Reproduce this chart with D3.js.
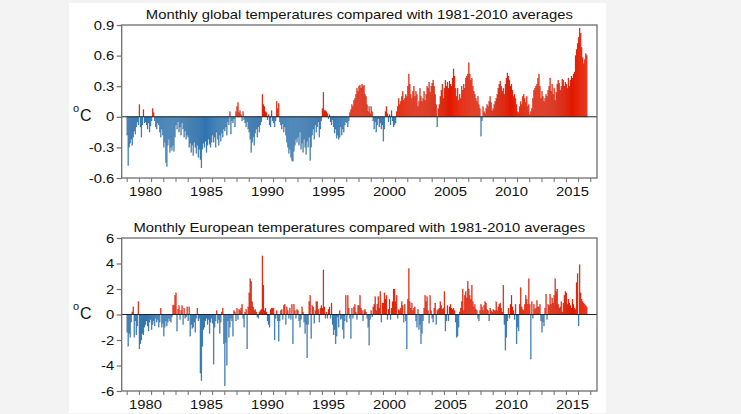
<!DOCTYPE html>
<html>
<head>
<meta charset="utf-8">
<script src="https://cdn.jsdelivr.net/npm/d3@7"></script>
<style>
  body { margin: 0; background: #f3f3f3; }
  text { font-family: "Liberation Sans", Arial, Helvetica, sans-serif; fill: #111; }
</style>
</head>
<body>
<div id="chart"></div>
<script>
// first month of both series (January 1979), one value per month
const startYear = 1979;

// Monthly global temperature anomalies (degC vs 1981-2010)
const globalAnom = [
  -0.18,-0.48,-0.30,-0.26,-0.22,-0.28,-0.20,-0.14,-0.17,-0.10,-0.05,-0.08,  // 1979
  0.12,-0.10,-0.20,-0.08,0.07,-0.06,-0.05,-0.08,-0.12,-0.06,-0.15,-0.09,   // 1980
  -0.04,0.08,0.04,-0.04,-0.10,-0.12,-0.06,-0.08,-0.15,-0.20,-0.12,-0.18,   // 1981
  -0.30,-0.25,-0.45,-0.49,-0.28,-0.22,-0.35,-0.30,-0.33,-0.28,-0.34,-0.20, // 1982
  -0.08,-0.12,-0.05,-0.15,-0.10,-0.18,-0.06,-0.12,-0.20,-0.14,-0.22,-0.18, // 1983
  -0.20,-0.30,-0.26,-0.35,-0.28,-0.38,-0.25,-0.30,-0.36,-0.28,-0.40,-0.32, // 1984
  -0.42,-0.50,-0.32,-0.26,-0.30,-0.24,-0.35,-0.28,-0.22,-0.27,-0.30,-0.25, // 1985
  -0.18,-0.25,-0.20,-0.30,-0.15,-0.22,-0.28,-0.18,-0.24,-0.16,-0.20,-0.12, // 1986
  -0.14,-0.10,-0.18,-0.05,-0.08,0.05,-0.17,-0.04,-0.06,-0.02,-0.10,0.05,   // 1987
  0.10,0.14,0.04,0.06,0.02,-0.04,0.05,-0.03,-0.06,-0.10,-0.05,-0.12,       // 1988
  -0.15,-0.22,-0.35,-0.25,-0.20,-0.28,-0.16,-0.12,-0.20,-0.10,-0.15,-0.08, // 1989
  -0.05,0.22,0.12,0.10,0.05,0.04,-0.03,0.02,-0.08,-0.10,0.06,-0.04,        // 1990
  -0.06,-0.10,-0.04,0.15,0.08,0.13,-0.05,-0.08,-0.12,-0.07,-0.15,-0.10,    // 1991
  -0.18,-0.25,-0.30,-0.36,-0.32,-0.40,-0.43,-0.44,-0.34,-0.28,-0.22,-0.25, // 1992
  -0.20,-0.28,-0.15,-0.32,-0.26,-0.35,-0.22,-0.30,-0.37,-0.24,-0.30,-0.20, // 1993
  -0.43,-0.30,-0.18,-0.12,-0.22,-0.08,-0.15,-0.10,-0.05,-0.20,-0.12,-0.04, // 1994
  0.08,0.24,0.06,0.06,0.05,0.03,-0.02,0.02,-0.05,-0.08,-0.03,-0.10,        // 1995
  -0.16,-0.12,-0.21,-0.18,-0.22,-0.20,-0.10,-0.18,-0.12,-0.15,-0.08,-0.05, // 1996
  -0.06,-0.10,-0.04,0.04,0.07,0.12,0.10,0.16,0.18,0.22,0.28,0.25,          // 1997
  0.30,0.31,0.28,0.32,0.30,0.31,0.22,0.20,0.12,0.05,0.10,0.03,             // 1998
  0.10,0.05,-0.04,-0.12,-0.05,-0.15,-0.08,-0.02,-0.10,-0.06,-0.12,-0.08,   // 1999
  -0.24,-0.12,0.05,0.10,0.03,-0.05,0.02,-0.08,0.06,-0.04,-0.10,-0.08,      // 2000
  -0.06,0.05,0.10,0.18,0.12,0.15,0.20,0.25,0.16,0.18,0.22,0.20,            // 2001
  0.30,0.42,0.32,0.22,0.18,0.25,0.30,0.20,0.25,0.22,0.10,0.15,             // 2002
  0.28,0.20,0.15,0.18,0.25,0.16,0.22,0.30,0.28,0.34,0.24,0.30,             // 2003
  0.33,0.36,0.30,0.22,0.12,-0.10,0.08,0.12,0.20,0.26,0.32,0.18,            // 2004
  0.28,0.36,0.30,0.34,0.28,0.35,0.32,0.30,0.38,0.47,0.40,0.28,             // 2005
  0.20,0.28,0.16,0.22,0.18,0.30,0.26,0.32,0.28,0.38,0.40,0.42,             // 2006
  0.53,0.42,0.36,0.38,0.30,0.25,0.22,0.18,0.15,0.20,0.12,0.08,             // 2007
  -0.19,-0.04,0.10,0.05,0.03,0.08,0.12,0.10,0.15,0.20,0.14,0.06,           // 2008
  0.08,0.12,0.15,0.18,0.22,0.28,0.32,0.35,0.30,0.25,0.28,0.22,             // 2009
  0.32,0.38,0.43,0.40,0.36,0.30,0.32,0.26,0.20,0.22,0.18,0.12,             // 2010
  0.05,0.04,0.10,0.15,0.12,0.20,0.22,0.18,0.14,0.20,0.10,0.12,             // 2011
  0.02,0.05,0.08,0.18,0.26,0.28,0.30,0.32,0.38,0.42,0.30,0.18,             // 2012
  0.25,0.20,0.15,0.18,0.22,0.20,0.26,0.30,0.38,0.25,0.32,0.22,             // 2013
  0.28,0.16,0.24,0.32,0.36,0.33,0.26,0.30,0.37,0.36,0.30,0.34,             // 2014
  0.32,0.28,0.38,0.30,0.36,0.40,0.38,0.42,0.44,0.60,0.66,0.72,             // 2015
  0.78,0.87,0.82,0.68,0.58,0.52,0.56,0.62,0.60                             // 2016 (Jan-Sep)
];

// Monthly European temperature anomalies (degC vs 1981-2010)
const europeAnom = [
  -1.4,-2.5,-1.5,-1.8,-0.6,0.2,0.6,-1.8,-0.5,-1.6,-0.9,1.0,    // 1979
  -2.7,-2.3,-2.0,-1.5,-1.6,-1.0,-0.8,-0.5,-0.9,-1.3,-0.6,-0.4, // 1980
  -1.2,-0.8,-0.5,-0.9,-0.3,-0.6,-0.4,-1.0,-0.6,0.5,-1.0,-0.7,  // 1981
  -1.7,-1.0,-0.5,-0.9,-0.6,-0.3,-0.5,-0.6,-0.2,0.7,0.75,1.5,   // 1982
  1.7,-1.3,0.4,0.7,-0.4,0.3,0.7,-0.8,0.5,-0.3,-0.2,0.6,        // 1983
  -0.5,0.6,-1.7,-0.8,-1.1,-1.0,-0.6,-1.4,-0.3,0.5,-0.5,-0.3,   // 1984
  -4.6,-5.2,-2.5,-1.2,-1.0,-0.5,-0.3,-0.8,-0.4,-1.5,-0.6,-0.3, // 1985
  -0.7,-3.9,-1.0,-0.5,0.3,-0.7,-0.4,-1.5,-0.6,0.2,0.5,-2.3,    // 1986
  -5.6,-2.2,-4.0,-0.5,-1.8,-1.0,-0.3,-0.5,-1.7,0.3,0.2,-0.5,   // 1987
  0.5,-0.4,0.4,0.3,0.5,0.8,-0.3,-1.0,0.2,0.4,-2.7,0.6,         // 1988
  1.7,2.8,2.6,1.0,0.6,0.3,0.4,0.2,-0.2,-0.3,0.2,0.3,           // 1989
  0.4,4.6,2.3,0.3,0.5,0.2,-0.5,-0.8,-1.0,0.4,0.5,0.5,          // 1990
  0.5,-2.0,-0.3,0.3,-0.5,-2.1,-0.5,0.3,0.4,-0.4,0.7,0.8,       // 1991
  -0.8,0.6,0.3,-0.3,0.5,-0.4,0.8,-2.3,0.8,0.3,-0.3,0.4,        // 1992
  0.3,-0.5,-1.0,-0.4,0.6,0.2,-0.6,-1.5,-0.8,-3.4,-0.8,1.0,     // 1993
  1.5,-1.9,0.7,0.6,-0.7,0.3,1.0,1.0,0.4,-0.6,0.5,0.7,          // 1994
  0.5,3.5,0.6,-0.3,0.2,-0.3,0.4,0.6,-0.3,0.9,-0.8,-1.6,        // 1995
  -1.2,-2.3,-1.7,-0.2,-1.0,0.3,-0.4,-0.3,-1.2,-1.9,-0.5,1.5,   // 1996
  -0.6,1.5,0.5,-0.3,-1.9,0.5,-0.3,0.6,0.8,0.2,-0.4,0.7,        // 1997
  0.7,1.5,0.5,0.3,-0.5,0.3,0.4,0.2,-0.3,-1.0,-2.4,-0.4,        // 1998
  0.3,-0.2,0.6,0.8,1.4,0.3,0.8,1.4,0.5,1.8,-0.6,0.9,           // 1999
  0.9,1.7,1.2,1.5,-0.4,0.4,1.2,-0.4,0.5,1.0,2.0,2.0,           // 2000
  1.0,1.5,-0.3,0.4,0.3,0.5,1.0,0.7,-0.6,0.8,-0.5,-2.7,         // 2001
  1.2,3.6,1.0,0.5,0.9,0.3,0.5,0.6,-0.5,-1.0,0.4,-1.2,          // 2002
  -0.8,-2.3,-1.5,-0.5,0.5,1.5,1.0,1.4,0.3,-0.7,1.5,0.3,        // 2003
  -0.3,-0.6,0.5,0.9,-0.8,0.3,0.4,0.5,1.0,0.7,0.4,0.5,          // 2004
  1.8,-1.3,-0.5,0.7,-0.5,0.6,0.8,0.5,0.4,0.5,0.3,-0.6,         // 2005
  -1.8,-1.7,-1.0,0.2,0.5,1.0,2.0,0.3,1.5,1.8,1.3,2.6,          // 2006
  2.0,1.5,1.2,2.3,1.0,0.6,0.8,0.4,0.3,-0.3,-0.5,0.3,           // 2007
  0.8,0.6,0.3,0.7,1.0,0.9,0.4,0.3,-0.5,0.5,0.3,0.2,            // 2008
  0.4,0.3,0.3,1.0,0.3,0.6,0.8,0.9,0.5,0.2,2.3,-0.8,            // 2009
  -2.8,-1.8,-0.5,0.5,-0.3,0.8,1.5,0.6,0.3,-0.4,0.8,-2.3,       // 2010
  -1.0,-1.3,0.8,2.1,0.6,0.4,0.3,0.8,1.5,1.2,0.8,2.8,           // 2011
  0.8,-3.5,1.0,-0.3,0.8,0.4,0.5,1.1,0.6,0.6,0.8,-0.5,          // 2012
  -1.4,-0.6,-0.9,0.5,1.6,-0.4,0.8,0.7,1.6,0.8,1.3,0.9,         // 2013
  1.5,2.8,1.8,2.0,0.8,0.5,0.6,1.0,0.2,0.9,1.5,1.8,             // 2014
  1.7,0.8,1.2,0.9,0.7,0.5,1.2,0.8,0.5,0.4,2.5,3.2,             // 2015
  -0.9,3.9,1.7,1.2,1.0,0.9,0.8,0.7,0.6                         // 2016 (Jan-Sep)
];

const yearLabels = [1980, 1985, 1990, 1995, 2000, 2005, 2010, 2015];
const globalTicks = [-0.6, -0.3, 0, 0.3, 0.6, 0.9];
const europeTicks = [-6, -4, -2, 0, 2, 4, 6];
const globalTitle = 'Monthly global temperatures compared with 1981-2010 averages';
const europeTitle = 'Monthly European temperatures compared with 1981-2010 averages';

const W = 741, H = 414;
const sx = 1.14; // the picture's lettering is a little wide

const svg = d3.select('#chart').append('svg')
    .attr('width', W)
    .attr('height', H);

// grey page and white card
svg.append('rect').attr('width', W).attr('height', H).attr('fill', '#f3f3f3');
svg.append('rect').attr('x', 69).attr('y', 3).attr('width', 537).attr('height', 410).attr('fill', '#fff');

const plotLeft = 121.7, plotRight = 597;
const x = d3.scaleLinear()
    .domain([1978.59, 2017.55])
    .range([plotLeft, plotRight]);

function drawPanel(values, domain, ticks, title, top, bottom) {
    const y = d3.scaleLinear().domain(domain).range([bottom, top]);
    const g = svg.append('g');

    // monthly bars
    g.selectAll('.bar')
        .data(values)
        .join('rect')
        .attr('class', 'bar')
        .attr('x', (d, i) => x(startYear + i / 12))
        .attr('width', (d, i) => x(startYear + (i + 1) / 12) - x(startYear + i / 12))
        .attr('y', d => y(Math.max(0, d)))
        .attr('height', d => Math.abs(y(d) - y(0)))
        .attr('fill', d => d >= 0 ? '#ff2200' : '#3b88c8')
        .attr('stroke', d => d >= 0 ? '#7a0a00' : '#123760')
        .attr('stroke-width', 0.4)
        .attr('stroke-opacity', 0.4);

    // zero line
    g.append('line')
        .attr('x1', plotLeft).attr('x2', plotRight)
        .attr('y1', y(0)).attr('y2', y(0))
        .attr('stroke', '#222').attr('stroke-width', 1);

    // frame
    g.append('rect')
        .attr('x', plotLeft).attr('y', top)
        .attr('width', plotRight - plotLeft).attr('height', bottom - top)
        .attr('fill', 'none').attr('stroke', '#6e6e6e').attr('stroke-width', 1.3);

    // y axis, plain hyphen for the minus sign as in the picture
    const yAxis = g.append('g')
        .attr('transform', `translate(${plotLeft},0)`)
        .call(d3.axisLeft(y).tickValues(ticks).tickSize(5).tickPadding(1.5)
            .tickFormat(d => String(d)));
    yAxis.select('.domain').remove();
    yAxis.selectAll('line').attr('stroke', '#6e6e6e').attr('stroke-width', 1.2);
    yAxis.selectAll('text')
        .attr('transform', `scale(${sx},1)`)
        .style('font-size', '13px');

    // yearly ticks under the frame
    const xTicks = g.append('g')
        .attr('transform', `translate(0,${bottom})`)
        .call(d3.axisBottom(x).tickValues(d3.range(1979, 2018)).tickSize(4).tickFormat(''));
    xTicks.select('.domain').remove();
    xTicks.selectAll('line').attr('stroke', '#6e6e6e').attr('stroke-width', 1);

    // year labels, centred on the year
    const xLabels = g.append('g')
        .attr('transform', `translate(0,${bottom})`)
        .call(d3.axisBottom(x).tickValues(yearLabels.map(v => v + 0.5))
            .tickSize(0).tickPadding(8.8).tickFormat(d => Math.floor(d)));
    xLabels.select('.domain').remove();
    xLabels.selectAll('text')
        .attr('transform', `scale(${sx},1)`)
        .style('font-size', '13px');

    // title
    g.append('text')
        .attr('transform', `translate(${(plotLeft + plotRight) / 2},${top - 6}) scale(${sx},1)`)
        .attr('text-anchor', 'middle')
        .style('font-size', '13px')
        .text(title);

    // unit label: superscript o + C
    g.append('text')
        .attr('x', 73).attr('y', y(0) - 4.8)
        .style('font-size', '11px')
        .text('o');
    g.append('text')
        .attr('x', 80).attr('y', y(0) + 4.5)
        .style('font-size', '16px')
        .text('C');
}

drawPanel(globalAnom, [-0.6, 0.9], globalTicks, globalTitle, 25, 178);
drawPanel(europeAnom, [-6, 6], europeTicks, europeTitle, 238, 391);
</script>
</body>
</html>
